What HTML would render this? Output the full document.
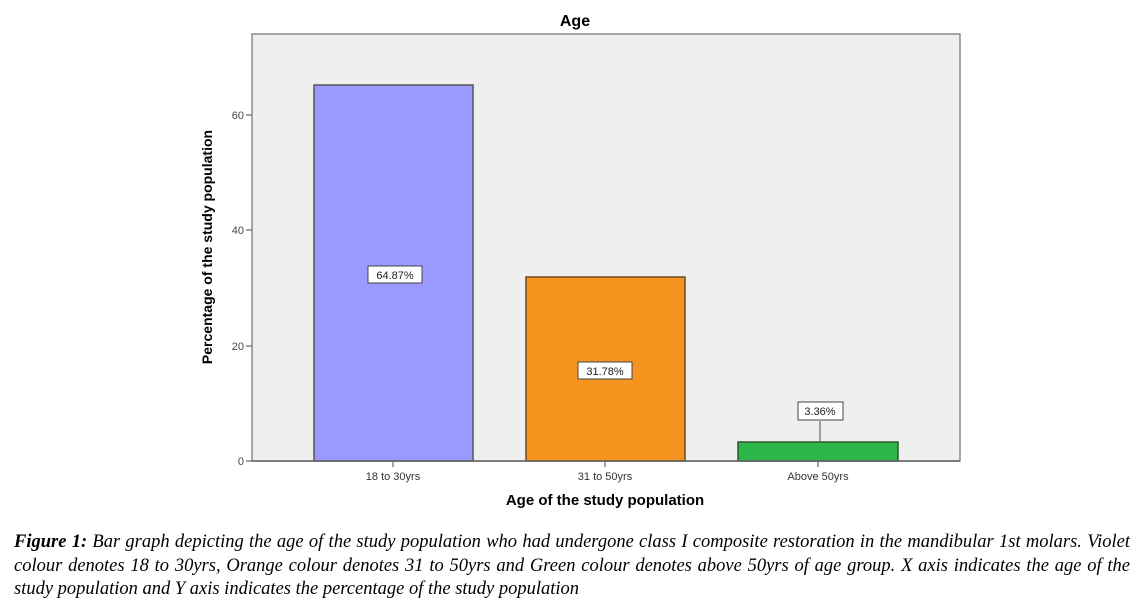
<!DOCTYPE html>
<html><head><style>
body{margin:0;background:#fff;width:1148px;height:611px;position:relative;overflow:hidden;font-family:"Liberation Sans",sans-serif}
.cap{position:absolute;left:14px;top:531px;width:1116px;font-family:"Liberation Serif",serif;font-style:italic;font-size:18.5px;line-height:23.5px;color:#000}
.cap div{white-space:nowrap;text-align:justify;text-align-last:justify;overflow:hidden}
.cap div.l{text-align-last:left}
</style></head><body>
<svg width="1148" height="520" style="position:absolute;left:0;top:0">
<text x="575" y="26" font-size="16" font-weight="bold" text-anchor="middle" font-family="Liberation Sans">Age</text>
<rect x="252" y="34" width="708" height="427" fill="#efefef" stroke="#8a8a8a" stroke-width="1.5"/>
<rect x="314" y="85" width="159" height="376" fill="#9999ff" stroke="#555" stroke-width="1.5"/>
<rect x="526" y="277" width="159" height="184" fill="#f5951f" stroke="#6b4a1a" stroke-width="1.5"/>
<rect x="738" y="442" width="160" height="19" fill="#2db64a" stroke="#2a5a2a" stroke-width="1.5"/>
<line x1="252" y1="461" x2="960" y2="461" stroke="#666" stroke-width="1.5"/>
<g stroke="#666" stroke-width="1.2">
<line x1="246" y1="461" x2="252" y2="461"/><line x1="246" y1="346" x2="252" y2="346"/><line x1="246" y1="230" x2="252" y2="230"/><line x1="246" y1="115" x2="252" y2="115"/>
<line x1="393" y1="461" x2="393" y2="467"/><line x1="605" y1="461" x2="605" y2="467"/><line x1="818" y1="461" x2="818" y2="467"/>
<line x1="820" y1="421" x2="820" y2="442"/>
</g>
<g font-size="11" fill="#444" text-anchor="end"><text x="244" y="465">0</text><text x="244" y="350">20</text><text x="244" y="234">40</text><text x="244" y="119">60</text></g>
<g font-size="11" fill="#333" text-anchor="middle"><text x="393" y="480">18 to 30yrs</text><text x="605" y="480">31 to 50yrs</text><text x="818" y="480">Above 50yrs</text></g>
<text x="605" y="505" font-size="15" font-weight="bold" text-anchor="middle">Age of the study population</text>
<text transform="translate(212,247) rotate(-90)" font-size="14" font-weight="bold" text-anchor="middle">Percentage of the study population</text>
<g font-size="11" fill="#222" text-anchor="middle">
<rect x="368" y="266" width="54" height="17" fill="#fff" stroke="#444"/><text x="395" y="279">64.87%</text>
<rect x="578" y="362" width="54" height="17" fill="#fff" stroke="#444"/><text x="605" y="375">31.78%</text>
<rect x="798" y="402" width="45" height="18" fill="#fff" stroke="#444"/><text x="820" y="415">3.36%</text>
</g>
</svg>
<div class="cap">
<div><b>Figure 1:</b> Bar graph depicting the age of the study population who had undergone class I composite restoration in the mandibular 1st molars. Violet</div>
<div>colour denotes 18 to 30yrs, Orange colour denotes 31 to 50yrs and Green colour denotes above 50yrs of age group. X axis indicates the age of the</div>
<div class="l">study population and Y axis indicates the percentage of the study population</div>
</div>
</body></html>
